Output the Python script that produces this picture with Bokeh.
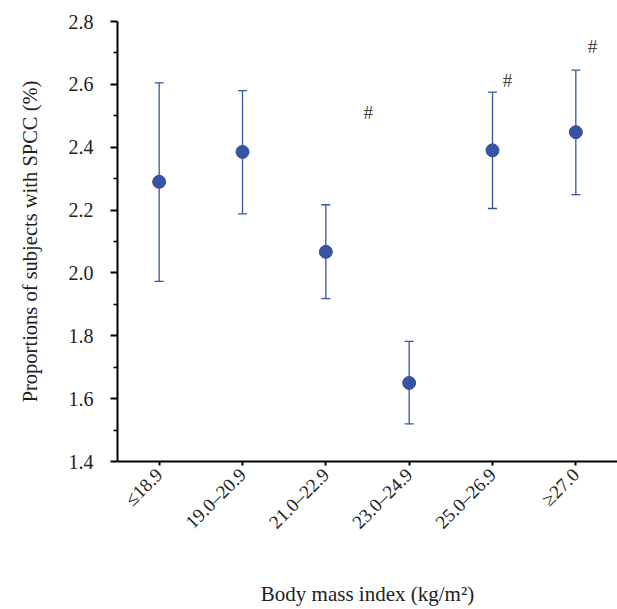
import math
from bokeh.plotting import figure
from bokeh.models import ColumnDataSource, FactorRange, Range1d, FixedTicker, Whisker, TeeHead
from bokeh.core.properties import value
from bokeh.embed import file_html
from bokeh.resources import INLINE

categories = ["≤18.9", "19.0–20.9", "21.0–22.9", "23.0–24.9", "25.0–26.9", "≥27.0"]
means = [2.29, 2.385, 2.067, 1.65, 2.39, 2.448]
lower = [1.973, 2.188, 1.918, 1.52, 2.205, 2.249]
upper = [2.605, 2.58, 2.217, 1.782, 2.575, 2.645]

hash_cats = ["21.0–22.9", "25.0–26.9", "≥27.0"]
hash_offsets = [0.51, 0.18, 0.2]
hash_y = [2.512, 2.613, 2.721]
hash_text = ["#", "#", "#"]

y_ticks = [1.4, 1.6, 1.8, 2.0, 2.2, 2.4, 2.6, 2.8]
y_minor = [1.5, 1.7, 1.9, 2.1, 2.3, 2.5, 2.7]

FONT = "Liberation Serif"
BLUE = "#3953a4"

p = figure(x_range=FactorRange(factors=categories, range_padding=0),
           y_range=Range1d(1.4, 2.8),
           width=617, height=609, output_backend="svg", toolbar_location=None,
           min_border_left=117, min_border_right=0, min_border_top=21, min_border_bottom=146)
p.outline_line_color = None
p.xgrid.grid_line_color = None
p.ygrid.grid_line_color = None

src = ColumnDataSource(dict(cat=categories, mean=means, lower=lower, upper=upper))
w = Whisker(base="cat", lower="lower", upper="upper", source=src,
            line_color=BLUE, line_width=1.3,
            upper_head=TeeHead(size=9, line_color=BLUE, line_width=1.3),
            lower_head=TeeHead(size=9, line_color=BLUE, line_width=1.3))
p.add_layout(w)
p.scatter(x="cat", y="mean", source=src, size=13, fill_color=BLUE, line_color=BLUE)

hsrc = ColumnDataSource(dict(x=[(c, o) for c, o in zip(hash_cats, hash_offsets)], y=hash_y, t=hash_text))
p.text(x="x", y="y", text="t", source=hsrc, text_font=value(FONT), text_font_size="19px",
       text_color="#444444", text_align="center", text_baseline="middle")

p.yaxis.ticker = FixedTicker(ticks=y_ticks, minor_ticks=y_minor)
p.yaxis.major_label_overrides = {t: f"{t:.1f}" for t in y_ticks}

for ax in (p.xaxis[0], p.yaxis[0]):
    ax.axis_line_width = 2
    ax.axis_line_color = "black"
    ax.major_tick_line_width = 2
    ax.minor_tick_line_width = 1.5
    ax.major_tick_in = 0
    ax.minor_tick_in = 0
    ax.major_label_text_font = FONT
    ax.major_label_text_font_size = "19px"
    ax.major_label_text_color = "#222222"
    ax.axis_label_text_font = FONT
    ax.axis_label_text_font_size = "20px"
    ax.axis_label_text_font_style = "normal"
    ax.axis_label_text_color = "#222222"

p.yaxis.major_label_text_font_size = "20px"
p.yaxis.major_tick_out = 7
p.yaxis.minor_tick_out = 4
p.yaxis.major_label_standoff = 17
p.yaxis.axis_label = "Proportions of subjects with SPCC (%)"
p.yaxis.axis_label_text_font_size = "20.5px"
p.yaxis.axis_label_standoff = 25

p.xaxis.major_tick_out = 4
p.xaxis.major_label_orientation = math.pi / 4
p.xaxis.major_label_standoff = 6
p.xaxis.axis_label = "Body mass index (kg/m²)"
p.xaxis.axis_label_text_font_size = "21px"
p.xaxis.axis_label_standoff = 39

open("out.html", "w").write(file_html(p, INLINE))
